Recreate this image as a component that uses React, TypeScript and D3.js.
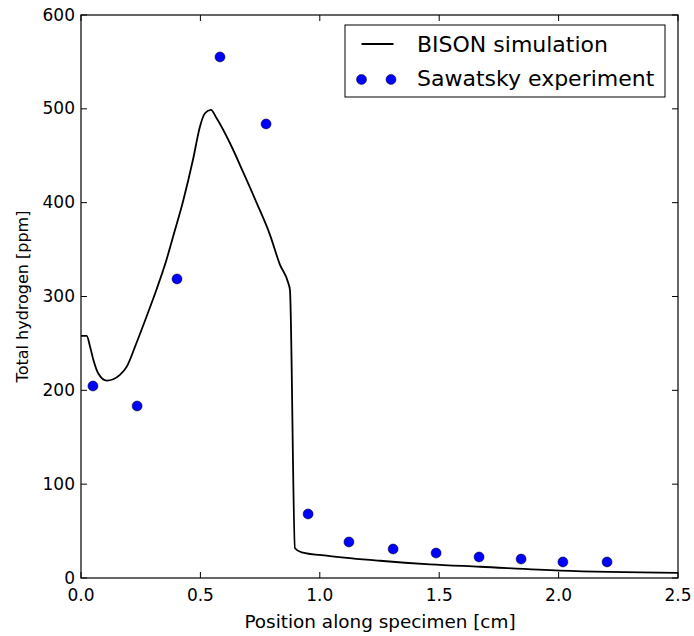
import React from "react";
import * as d3 from "d3";

// BISON simulation curve (position cm, hydrogen ppm)
const simX = [0, 0.024, 0.038, 0.052, 0.072, 0.108, 0.135, 0.163, 0.191, 0.233, 0.275, 0.317, 0.359, 0.387, 0.428, 0.47, 0.498, 0.519, 0.544, 0.568, 0.624, 0.68, 0.736, 0.791, 0.833, 0.868, 0.875, 0.896, 0.924, 1.043, 1.252, 1.461, 1.671, 2.006, 2.5];
const simY = [258, 258, 246.5, 232.3, 218.2, 210.3, 211.8, 216.4, 225, 251, 279, 308, 340, 365, 402, 447, 481, 495.3, 498.8, 489.9, 463.3, 432, 399.5, 366, 334, 314.4, 307, 31.7, 27.4, 23.4, 18.4, 14.6, 12, 7.8, 5.5];

// Sawatsky experiment points
const expX = [0.05, 0.235, 0.402, 0.582, 0.775, 0.951, 1.122, 1.307, 1.487, 1.667, 1.843, 2.018, 2.203];
const expY = [204.6, 183.3, 318.7, 555.3, 483.9, 68.2, 38.4, 30.9, 26.6, 22.4, 20.2, 17.1, 17.1];

const xTicks = [0, 0.5, 1.0, 1.5, 2.0, 2.5];
const yTicks = [0, 100, 200, 300, 400, 500, 600];

const W = 694;
const H = 636;
const left = 81;
const right = 678;
const top = 15;
const bottom = 578;
const font = "DejaVu Sans, sans-serif";

export default function App() {
  const x = d3.scaleLinear().domain([0, 2.5]).range([left, right]);
  const y = d3.scaleLinear().domain([0, 600]).range([bottom, top]);

  const line = d3
    .line<number>()
    .x((d, i) => x(simX[i]))
    .y((d, i) => y(simY[i]))
    .curve(d3.curveMonotoneX);

  const tick = 6;

  return (
    <svg
      width={W}
      height={H}
      style={{ position: "absolute", left: 0, top: 0, background: "#fff" }}
      fontFamily={font}
    >
      <rect x={0} y={0} width={W} height={H} fill="#fff" />
      <defs>
        <clipPath id="plot-clip">
          <rect x={left} y={top} width={right - left} height={bottom - top} />
        </clipPath>
      </defs>

      <g clipPath="url(#plot-clip)">
        <path d={line(simY) || ""} fill="none" stroke="#000" strokeWidth={1.8} strokeLinejoin="round" />
      </g>
      {expX.map((v, i) => (
        <circle key={i} cx={x(v)} cy={y(expY[i])} r={5} fill="#0000ff" stroke="#000" strokeWidth={0.5} />
      ))}

      {/* ticks, inward on all sides */}
      {xTicks.map((t) => (
        <g key={"x" + t}>
          <line x1={x(t)} x2={x(t)} y1={bottom} y2={bottom - tick} stroke="#000" strokeWidth={1} />
          <line x1={x(t)} x2={x(t)} y1={top} y2={top + tick} stroke="#000" strokeWidth={1} />
          <text x={x(t)} y={601} textAnchor="middle" fontSize={17} fill="#000">
            {t.toFixed(1)}
          </text>
        </g>
      ))}
      {yTicks.map((t) => (
        <g key={"y" + t}>
          <line x1={left} x2={left + tick} y1={y(t)} y2={y(t)} stroke="#000" strokeWidth={1} />
          <line x1={right} x2={right - tick} y1={y(t)} y2={y(t)} stroke="#000" strokeWidth={1} />
          <text x={75} y={y(t)} dy="0.33em" textAnchor="end" fontSize={17} fill="#000">
            {t}
          </text>
        </g>
      ))}

      <rect x={left} y={top} width={right - left} height={bottom - top} fill="none" stroke="#000" strokeWidth={1.2} />

      {/* legend */}
      <rect x={345} y={25} width={320} height={72} fill="#fff" stroke="#000" strokeWidth={1} />
      <line x1={361.5} x2={393.5} y1={44} y2={44} stroke="#000" strokeWidth={1.8} />
      <text x={417} y={52} fontSize={22} fill="#000">
        BISON simulation
      </text>
      <circle cx={361.5} cy={79.5} r={5} fill="#0000ff" stroke="#000" strokeWidth={0.5} />
      <circle cx={391} cy={79.5} r={5} fill="#0000ff" stroke="#000" strokeWidth={0.5} />
      <text x={417} y={86} fontSize={22} fill="#000">
        Sawatsky experiment
      </text>

      {/* axis labels */}
      <text x={380} y={628} textAnchor="middle" fontSize={18.4} fill="#000">
        Position along specimen [cm]
      </text>
      <text
        transform={`translate(28, ${(top + bottom) / 2}) rotate(-90)`}
        textAnchor="middle"
        fontSize={16}
        fill="#000"
      >
        Total hydrogen [ppm]
      </text>
    </svg>
  );
}
